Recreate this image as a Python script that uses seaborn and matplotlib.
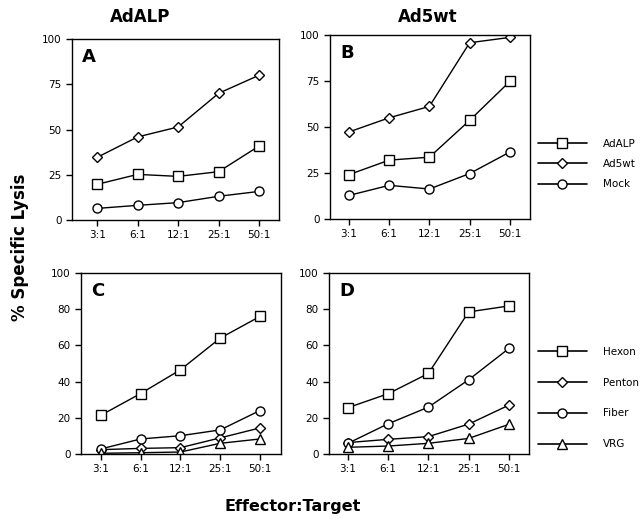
import matplotlib
matplotlib.use('Agg')
import matplotlib.pyplot as plt
from matplotlib.lines import Line2D
import pandas as pd
import seaborn as sns

# ratios on the x axis
ratios = ['3:1', '6:1', '12:1', '25:1', '50:1']

# panel A (AdALP targets)
a_adalp = [19.7, 25.2, 24.1, 26.7, 40.9]
a_ad5wt = [34.6, 45.9, 51.4, 70.0, 80.0]
a_mock = [6.4, 8.1, 9.6, 13.1, 15.8]

# panel B (Ad5wt targets)
b_adalp = [24.1, 32.0, 33.6, 53.6, 74.8]
b_ad5wt = [47.3, 55.0, 61.2, 95.8, 98.7]
b_mock = [12.8, 18.3, 16.3, 24.7, 36.4]

# panel C
c_hexon = [21.4, 33.4, 46.5, 64.0, 76.0]
c_penton = [2.4, 3.1, 3.5, 8.9, 14.4]
c_fiber = [2.8, 8.3, 10.1, 13.3, 24.0]
c_vrg = [0.4, 0.7, 1.1, 5.9, 8.3]

# panel D
d_hexon = [25.6, 33.3, 44.5, 78.5, 81.8]
d_penton = [6.3, 8.1, 9.6, 16.5, 27.0]
d_fiber = [5.9, 16.7, 25.9, 41.0, 58.3]
d_vrg = [3.7, 4.4, 5.9, 8.6, 16.4]

top_groups = ['AdALP', 'Ad5wt', 'Mock']
bot_groups = ['Hexon', 'Penton', 'Fiber', 'VRG']
marks = {'AdALP': 's', 'Ad5wt': 'D', 'Mock': 'o',
         'Hexon': 's', 'Penton': 'D', 'Fiber': 'o', 'VRG': '^'}
msize = {'s': 7, 'D': 5, 'o': 6.5, '^': 7}


def long_df(groups, series):
    rows = []
    for g, vals in zip(groups, series):
        for r, v in zip(ratios, vals):
            rows.append({'ratio': r, 'lysis': v, 'group': g})
    return pd.DataFrame(rows)


sns.set_style('white')
plt.rcParams['font.family'] = ['DejaVu Sans']
plt.rcParams['text.color'] = 'black'
plt.rcParams['xtick.color'] = 'black'
plt.rcParams['ytick.color'] = 'black'

W, H = 644, 521
fig = plt.figure(figsize=(W / 100, H / 100), dpi=100)


def px_axes(l, r, t, b):
    return fig.add_axes([l / W, 1 - b / H, (r - l) / W, (b - t) / H])


panels = [
    (px_axes(72, 279, 39, 220), 'A', top_groups, [a_adalp, a_ad5wt, a_mock], [0, 25, 50, 75, 100], (-0.62, 4.49)),
    (px_axes(330, 530, 35, 219), 'B', top_groups, [b_adalp, b_ad5wt, b_mock], [0, 25, 50, 75, 100], (-0.47, 4.5)),
    (px_axes(81, 281, 273, 454), 'C', bot_groups, [c_hexon, c_penton, c_fiber, c_vrg], [0, 20, 40, 60, 80, 100], (-0.5, 4.53)),
    (px_axes(329, 529, 273, 454), 'D', bot_groups, [d_hexon, d_penton, d_fiber, d_vrg], [0, 20, 40, 60, 80, 100], (-0.47, 4.5)),
]

for ax, letter, groups, series, yt, xl in panels:
    df = long_df(groups, series)
    for g in groups:
        sub = df[df.group == g]
        m = marks[g]
        sns.lineplot(data=sub, x='ratio', y='lysis', ax=ax, color='k', lw=1,
                     marker=m, markersize=msize[m], markerfacecolor='white',
                     markeredgecolor='k', markeredgewidth=1, sort=False,
                     legend=False)
    ax.set_ylim(0, 100)
    ax.set_yticks(yt)
    ax.set_xlim(*xl)
    ax.set_xlabel('')
    ax.set_ylabel('')
    ax.tick_params(axis='both', direction='out', length=4, width=1,
                   labelsize=7.5, left=True, bottom=True, colors='k')
    for s in ax.spines.values():
        s.set_color('k')
        s.set_linewidth(1)
    ax.text(0.05, 0.95, letter, transform=ax.transAxes, fontsize=13,
            fontweight='bold', va='top', ha='left')


def handles(groups):
    return [Line2D([0], [0], color='k', lw=1.2, marker=marks[g],
                   markersize=msize[marks[g]], markerfacecolor='white',
                   markeredgecolor='k') for g in groups]


fig.legend(handles(top_groups), top_groups, loc='center left',
           bbox_to_anchor=(538 / W, 1 - 164 / H), frameon=False,
           fontsize=7.5, handlelength=4.7, handletextpad=1.5,
           labelspacing=1.0, borderpad=0, borderaxespad=0)
fig.legend(handles(bot_groups), bot_groups, loc='center left',
           bbox_to_anchor=(538 / W, 1 - 398 / H), frameon=False,
           fontsize=7.5, handlelength=4.7, handletextpad=1.5,
           labelspacing=2.0, borderpad=0, borderaxespad=0)

fig.text(140 / W, 1 - 17 / H, 'AdALP', ha='center', va='center',
         fontsize=12, fontweight='bold')
fig.text(428 / W, 1 - 17 / H, 'Ad5wt', ha='center', va='center',
         fontsize=12, fontweight='bold')
fig.text(20 / W, 1 - 247 / H, '% Specific Lysis', rotation=90,
         ha='center', va='center', fontsize=12, fontweight='bold')
fig.text(293 / W, 1 - 507 / H, 'Effector:Target', ha='center',
         va='center', fontsize=11.5, fontweight='bold')

fig.savefig('out.png', dpi=100, facecolor='white')
